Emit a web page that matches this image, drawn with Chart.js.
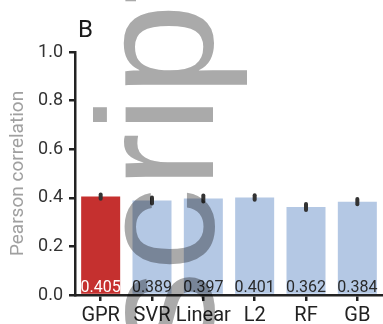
<!DOCTYPE html>
<html>
<head>
<meta charset="utf-8">
<script src="https://cdn.jsdelivr.net/npm/chart.js@4.4.0/dist/chart.umd.min.js"></script>
<style>
  html, body { margin: 0; padding: 0; background: #fff; }
  #wrap { width: 383px; height: 324px; }
</style>
</head>
<body>
<div id="wrap"><canvas id="barChart"></canvas></div>
<script>
var models = ["GPR", "SVR", "Linear", "L2", "RF", "GB"];
var pearson = [0.405, 0.389, 0.397, 0.401, 0.362, 0.384];
var pearsonErr = [0.009, 0.012, 0.012, 0.009, 0.012, 0.011];
var yTicks = [0, 0.2, 0.4, 0.6, 0.8, 1.0];

var barColors = models.map(function (m) { return m === "GPR" ? "#c5302f" : "#b4c8e4"; });
var labelColors = models.map(function (m) { return m === "GPR" ? "#ffffff" : "#2a2a2a"; });

// error bars + value labels at the foot of each bar
var barExtras = {
  id: "barExtras",
  afterDatasetsDraw: function (chart) {
    var ctx = chart.ctx;
    var y = chart.scales.y;
    var bars = chart.getDatasetMeta(0).data;
    ctx.save();
    ctx.strokeStyle = "#333";
    ctx.lineWidth = 4;
    ctx.lineCap = "round";
    bars.forEach(function (bar, i) {
      ctx.beginPath();
      ctx.moveTo(bar.x, y.getPixelForValue(pearson[i] - pearsonErr[i]));
      ctx.lineTo(bar.x, y.getPixelForValue(pearson[i] + pearsonErr[i]));
      ctx.stroke();
    });
    ctx.font = "16px Roboto";
    ctx.textAlign = "center";
    ctx.textBaseline = "alphabetic";
    bars.forEach(function (bar, i) {
      ctx.fillStyle = labelColors[i];
      ctx.fillText(pearson[i].toFixed(3), bar.x, y.bottom - 3);
    });
    ctx.restore();
  },
  afterDraw: function (chart) {
    var ctx = chart.ctx;
    ctx.save();
    ctx.fillStyle = "#1a1a1a";
    ctx.font = "24px Roboto";
    ctx.textBaseline = "alphabetic";
    ctx.fillText("B", 78, 37);
    ctx.restore();

    // grey watermark running up the page
    ctx.save();
    ctx.globalCompositeOperation = "multiply";
    ctx.fillStyle = "#aaaaaa";
    ctx.font = "166px 'Liberation Sans'";
    var a = ctx.measureText("Manuscr").width;
    var b = ctx.measureText("Manuscri").width;
    ctx.translate(213, 114.5 + (a + b) / 2);
    ctx.rotate(-Math.PI / 2);
    ctx.textBaseline = "alphabetic";
    ctx.fillText("Manuscript", 0, 0);
    ctx.restore();
  }
};

new Chart(document.getElementById("barChart"), {
  type: "bar",
  data: {
    labels: models,
    datasets: [{
      data: pearson,
      backgroundColor: barColors,
      borderWidth: 0,
      barPercentage: 0.76,
      categoryPercentage: 1.0
    }]
  },
  options: {
    responsive: true,
    maintainAspectRatio: false,
    animation: false,
    layout: { padding: { top: 52, right: 0, bottom: 0, left: 0 } },
    plugins: {
      legend: { display: false },
      tooltip: { enabled: false }
    },
    scales: {
      x: {
        offset: true,
        border: { color: "#222", width: 2.5 },
        grid: { drawOnChartArea: false, offset: false, color: "#222", lineWidth: 2.5, tickLength: 6 },
        ticks: { color: "#222", font: { family: "Roboto", size: 20 }, padding: 3, maxRotation: 0, autoSkip: false },
        afterFit: function (s) { s.height = 29; }
      },
      y: {
        min: 0,
        max: 1,
        afterBuildTicks: function (s) { s.ticks = yTicks.map(function (v) { return { value: v }; }); },
        border: { color: "#222", width: 2.5 },
        grid: { drawOnChartArea: false, color: "#222", lineWidth: 2.5, tickLength: 6 },
        ticks: {
          color: "#333",
          font: { family: "Roboto", size: 18 },
          padding: 6,
          callback: function (v) { return v.toFixed(1); }
        },
        title: {
          display: true,
          text: "Pearson correlation",
          color: "#a0a0a0",
          font: { family: "Roboto", size: 19 },
          padding: { top: 7, bottom: 0 }
        },
        afterFit: function (s) { s.width = 75; }
      }
    }
  },
  plugins: [barExtras]
});
</script>
</body>
</html>
